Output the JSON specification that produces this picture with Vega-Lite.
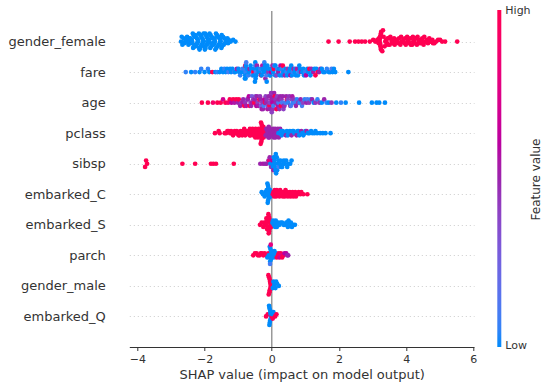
{
"$schema":"https://vega.github.io/schema/vega-lite/v6.json",
"width":344.7,"height":336,
"autosize":{"type":"none"},
"padding":{"left":129.3,"top":11,"right":76,"bottom":41},
"config":{"view":{"stroke":null},"font":"DejaVu Sans"},
"resolve":{"scale":{"y":"independent"}},
"layer":[
{"data":{"values":[{}]},"mark":{"type":"rule","color":"#999999","strokeWidth":1.5},"encoding":{"x":{"datum":0}}},
{"data":{"values":[{}]},"mark":{"type":"rule","opacity":0},"encoding":{"y":{"datum":0,"type":"quantitative","scale":{"domain":[0,1]},"axis":{"orient":"right","title":"Feature value","domain":false,"ticks":false,"labels":false,"grid":false,"titleAngle":-90,"titlePadding":68,"titleFontSize":12,"titleFontWeight":"normal","titleColor":"#333333"}}}},
{"data":{"values":[
{"f":"gender_female","s":-2.70,"v":0},{"f":"gender_female","s":-2.68,"v":0},{"f":"gender_female","s":-2.66,"v":0},{"f":"gender_female","s":-2.62,"v":0},{"f":"gender_female","s":-2.60,"v":0},{"f":"gender_female","s":-2.57,"v":0},{"f":"gender_female","s":-2.55,"v":0},{"f":"gender_female","s":-2.52,"v":0},
{"f":"gender_female","s":-2.48,"v":0},{"f":"gender_female","s":-2.47,"v":0},{"f":"gender_female","s":-2.45,"v":0},{"f":"gender_female","s":-2.43,"v":0},{"f":"gender_female","s":-2.42,"v":0},{"f":"gender_female","s":-2.40,"v":0},{"f":"gender_female","s":-2.38,"v":0},{"f":"gender_female","s":-2.37,"v":0},{"f":"gender_female","s":-2.35,"v":0},{"f":"gender_female","s":-2.34,"v":0},{"f":"gender_female","s":-2.32,"v":0},{"f":"gender_female","s":-2.31,"v":0},{"f":"gender_female","s":-2.30,"v":0},{"f":"gender_female","s":-2.295,"v":0},
{"f":"gender_female","s":-2.28,"v":0},{"f":"gender_female","s":-2.27,"v":0},{"f":"gender_female","s":-2.26,"v":0},{"f":"gender_female","s":-2.24,"v":0},{"f":"gender_female","s":-2.23,"v":0},{"f":"gender_female","s":-2.22,"v":0},{"f":"gender_female","s":-2.20,"v":0},{"f":"gender_female","s":-2.19,"v":0},{"f":"gender_female","s":-2.17,"v":0},{"f":"gender_female","s":-2.16,"v":0},{"f":"gender_female","s":-2.15,"v":0},{"f":"gender_female","s":-2.13,"v":0},{"f":"gender_female","s":-2.12,"v":0},{"f":"gender_female","s":-2.11,"v":0},{"f":"gender_female","s":-2.10,"v":0},{"f":"gender_female","s":-2.09,"v":0},
{"f":"gender_female","s":-2.07,"v":0},{"f":"gender_female","s":-2.06,"v":0},{"f":"gender_female","s":-2.05,"v":0},{"f":"gender_female","s":-2.03,"v":0},{"f":"gender_female","s":-2.02,"v":0},{"f":"gender_female","s":-2.01,"v":0},{"f":"gender_female","s":-1.99,"v":0},{"f":"gender_female","s":-1.98,"v":0},{"f":"gender_female","s":-1.97,"v":0},{"f":"gender_female","s":-1.95,"v":0},{"f":"gender_female","s":-1.94,"v":0},{"f":"gender_female","s":-1.93,"v":0},{"f":"gender_female","s":-1.91,"v":0},{"f":"gender_female","s":-1.90,"v":0},{"f":"gender_female","s":-1.89,"v":0},{"f":"gender_female","s":-1.88,"v":0},
{"f":"gender_female","s":-1.87,"v":0},{"f":"gender_female","s":-1.86,"v":0},{"f":"gender_female","s":-1.85,"v":0},{"f":"gender_female","s":-1.83,"v":0},{"f":"gender_female","s":-1.82,"v":0},{"f":"gender_female","s":-1.80,"v":0},{"f":"gender_female","s":-1.79,"v":0},{"f":"gender_female","s":-1.78,"v":0},{"f":"gender_female","s":-1.76,"v":0},{"f":"gender_female","s":-1.75,"v":0},{"f":"gender_female","s":-1.74,"v":0},{"f":"gender_female","s":-1.72,"v":0},{"f":"gender_female","s":-1.71,"v":0},{"f":"gender_female","s":-1.70,"v":0},{"f":"gender_female","s":-1.69,"v":0},{"f":"gender_female","s":-1.68,"v":0},
{"f":"gender_female","s":-1.66,"v":0},{"f":"gender_female","s":-1.65,"v":0},{"f":"gender_female","s":-1.63,"v":0},{"f":"gender_female","s":-1.62,"v":0},{"f":"gender_female","s":-1.61,"v":0},{"f":"gender_female","s":-1.59,"v":0},{"f":"gender_female","s":-1.58,"v":0},{"f":"gender_female","s":-1.56,"v":0},{"f":"gender_female","s":-1.55,"v":0},{"f":"gender_female","s":-1.53,"v":0},{"f":"gender_female","s":-1.52,"v":0},{"f":"gender_female","s":-1.50,"v":0},{"f":"gender_female","s":-1.49,"v":0},{"f":"gender_female","s":-1.48,"v":0},
{"f":"gender_female","s":-1.45,"v":0},{"f":"gender_female","s":-1.43,"v":0},{"f":"gender_female","s":-1.41,"v":0},{"f":"gender_female","s":-1.39,"v":0},{"f":"gender_female","s":-1.37,"v":0},{"f":"gender_female","s":-1.35,"v":0},{"f":"gender_female","s":-1.32,"v":0},{"f":"gender_female","s":-1.30,"v":0},{"f":"gender_female","s":-1.28,"v":0},{"f":"gender_female","s":-1.22,"v":0},{"f":"gender_female","s":-1.15,"v":0},{"f":"gender_female","s":-1.08,"v":0},
{"f":"gender_female","s":1.69,"v":1},{"f":"gender_female","s":1.99,"v":1},{"f":"gender_female","s":2.32,"v":1},{"f":"gender_female","s":2.48,"v":1},{"f":"gender_female","s":2.58,"v":1},{"f":"gender_female","s":2.68,"v":1},{"f":"gender_female","s":2.78,"v":1},{"f":"gender_female","s":2.92,"v":1},{"f":"gender_female","s":3.02,"v":1},
{"f":"gender_female","s":3.08,"v":1},{"f":"gender_female","s":3.14,"v":1},{"f":"gender_female","s":3.18,"v":1},{"f":"gender_female","s":3.19,"v":1},{"f":"gender_female","s":3.20,"v":1},{"f":"gender_female","s":3.21,"v":1},{"f":"gender_female","s":3.22,"v":1},{"f":"gender_female","s":3.22,"v":1},{"f":"gender_female","s":3.23,"v":1},{"f":"gender_female","s":3.23,"v":1},{"f":"gender_female","s":3.24,"v":1},{"f":"gender_female","s":3.24,"v":1},{"f":"gender_female","s":3.245,"v":1},{"f":"gender_female","s":3.25,"v":1},{"f":"gender_female","s":3.25,"v":1},{"f":"gender_female","s":3.255,"v":1},
{"f":"gender_female","s":3.29,"v":1},{"f":"gender_female","s":3.31,"v":1},{"f":"gender_female","s":3.33,"v":1},{"f":"gender_female","s":3.36,"v":1},{"f":"gender_female","s":3.38,"v":1},{"f":"gender_female","s":3.40,"v":1},{"f":"gender_female","s":3.43,"v":1},{"f":"gender_female","s":3.45,"v":1},{"f":"gender_female","s":3.46,"v":1},
{"f":"gender_female","s":3.49,"v":1},{"f":"gender_female","s":3.51,"v":1},{"f":"gender_female","s":3.53,"v":1},{"f":"gender_female","s":3.57,"v":1},{"f":"gender_female","s":3.58,"v":1},{"f":"gender_female","s":3.60,"v":1},{"f":"gender_female","s":3.62,"v":1},{"f":"gender_female","s":3.64,"v":1},{"f":"gender_female","s":3.66,"v":1},
{"f":"gender_female","s":3.70,"v":1},{"f":"gender_female","s":3.72,"v":1},{"f":"gender_female","s":3.74,"v":1},{"f":"gender_female","s":3.77,"v":1},{"f":"gender_female","s":3.79,"v":1},{"f":"gender_female","s":3.83,"v":1},{"f":"gender_female","s":3.85,"v":1},{"f":"gender_female","s":3.87,"v":1},
{"f":"gender_female","s":3.90,"v":1},{"f":"gender_female","s":3.92,"v":1},{"f":"gender_female","s":3.95,"v":1},{"f":"gender_female","s":3.97,"v":1},{"f":"gender_female","s":3.99,"v":1},{"f":"gender_female","s":4.03,"v":1},{"f":"gender_female","s":4.05,"v":1},{"f":"gender_female","s":4.07,"v":1},
{"f":"gender_female","s":4.10,"v":1},{"f":"gender_female","s":4.12,"v":1},{"f":"gender_female","s":4.14,"v":1},{"f":"gender_female","s":4.18,"v":1},{"f":"gender_female","s":4.20,"v":1},{"f":"gender_female","s":4.21,"v":1},{"f":"gender_female","s":4.24,"v":1},{"f":"gender_female","s":4.26,"v":1},{"f":"gender_female","s":4.28,"v":1},
{"f":"gender_female","s":4.30,"v":1},{"f":"gender_female","s":4.32,"v":1},{"f":"gender_female","s":4.34,"v":1},{"f":"gender_female","s":4.38,"v":1},{"f":"gender_female","s":4.40,"v":1},{"f":"gender_female","s":4.41,"v":1},{"f":"gender_female","s":4.45,"v":1},{"f":"gender_female","s":4.46,"v":1},{"f":"gender_female","s":4.48,"v":1},
{"f":"gender_female","s":4.52,"v":1},{"f":"gender_female","s":4.54,"v":1},{"f":"gender_female","s":4.56,"v":1},{"f":"gender_female","s":4.60,"v":1},{"f":"gender_female","s":4.62,"v":1},{"f":"gender_female","s":4.65,"v":1},{"f":"gender_female","s":4.69,"v":1},
{"f":"gender_female","s":4.73,"v":1},{"f":"gender_female","s":4.78,"v":1},{"f":"gender_female","s":4.80,"v":1},{"f":"gender_female","s":4.84,"v":1},{"f":"gender_female","s":4.89,"v":1},{"f":"gender_female","s":4.95,"v":1},{"f":"gender_female","s":5.01,"v":1},{"f":"gender_female","s":5.07,"v":1},{"f":"gender_female","s":5.16,"v":1},{"f":"gender_female","s":5.52,"v":1},

{"f":"fare","s":-2.56,"v":0.05},{"f":"fare","s":-2.40,"v":0},{"f":"fare","s":-2.28,"v":0.05},{"f":"fare","s":-2.15,"v":0},{"f":"fare","s":-2.10,"v":0.05},{"f":"fare","s":-2.00,"v":0},{"f":"fare","s":-1.90,"v":0.05},{"f":"fare","s":-1.86,"v":0},{"f":"fare","s":-1.77,"v":1},{"f":"fare","s":-1.68,"v":0},{"f":"fare","s":-1.62,"v":0.05},{"f":"fare","s":-1.55,"v":0},{"f":"fare","s":-1.50,"v":0},
{"f":"fare","s":-1.45,"v":0},{"f":"fare","s":-1.41,"v":0.05},{"f":"fare","s":-1.37,"v":0},{"f":"fare","s":-1.33,"v":0},{"f":"fare","s":-1.29,"v":0.1},{"f":"fare","s":-1.24,"v":0},{"f":"fare","s":-1.21,"v":0},{"f":"fare","s":-1.17,"v":0},{"f":"fare","s":-1.12,"v":0.05},{"f":"fare","s":-1.09,"v":0},{"f":"fare","s":-1.04,"v":0.5},{"f":"fare","s":-0.99,"v":0},{"f":"fare","s":-0.97,"v":0},{"f":"fare","s":-0.94,"v":0.05},{"f":"fare","s":-0.90,"v":0},{"f":"fare","s":-0.87,"v":0.1},
{"f":"fare","s":-0.85,"v":0},{"f":"fare","s":-0.82,"v":0.05},{"f":"fare","s":-0.80,"v":0},{"f":"fare","s":-0.79,"v":0},{"f":"fare","s":-0.79,"v":1},{"f":"fare","s":-0.78,"v":0},{"f":"fare","s":-0.78,"v":0.05},{"f":"fare","s":-0.77,"v":0},{"f":"fare","s":-0.76,"v":0.1},{"f":"fare","s":-0.75,"v":0},
{"f":"fare","s":-0.73,"v":0},{"f":"fare","s":-0.70,"v":0.05},{"f":"fare","s":-0.68,"v":0},{"f":"fare","s":-0.66,"v":0.5},{"f":"fare","s":-0.63,"v":0},
{"f":"fare","s":-0.61,"v":0},{"f":"fare","s":-0.58,"v":0.05},{"f":"fare","s":-0.55,"v":1},{"f":"fare","s":-0.53,"v":0},{"f":"fare","s":-0.51,"v":0},
{"f":"fare","s":-0.50,"v":0},{"f":"fare","s":-0.49,"v":0},{"f":"fare","s":-0.49,"v":0.05},{"f":"fare","s":-0.48,"v":0},{"f":"fare","s":-0.47,"v":0.1},{"f":"fare","s":-0.46,"v":0},{"f":"fare","s":-0.44,"v":0.5},{"f":"fare","s":-0.42,"v":0},{"f":"fare","s":-0.39,"v":0},
{"f":"fare","s":-0.37,"v":0},{"f":"fare","s":-0.34,"v":0.05},{"f":"fare","s":-0.32,"v":1},{"f":"fare","s":-0.30,"v":0},{"f":"fare","s":-0.28,"v":0.55},{"f":"fare","s":-0.27,"v":0},
{"f":"fare","s":-0.25,"v":0},{"f":"fare","s":-0.22,"v":0.05},{"f":"fare","s":-0.20,"v":0},{"f":"fare","s":-0.19,"v":0},{"f":"fare","s":-0.19,"v":0.5},{"f":"fare","s":-0.18,"v":0},{"f":"fare","s":-0.16,"v":0.1},{"f":"fare","s":-0.15,"v":0},
{"f":"fare","s":-0.13,"v":0},{"f":"fare","s":-0.10,"v":0.45},{"f":"fare","s":-0.08,"v":0},{"f":"fare","s":-0.06,"v":0.05},{"f":"fare","s":-0.04,"v":0},{"f":"fare","s":-0.02,"v":0.6},
{"f":"fare","s":-0.01,"v":0},{"f":"fare","s":0.02,"v":0.5},{"f":"fare","s":0.04,"v":0},{"f":"fare","s":0.06,"v":1},{"f":"fare","s":0.08,"v":0.05},{"f":"fare","s":0.10,"v":0},
{"f":"fare","s":0.11,"v":0},{"f":"fare","s":0.14,"v":0.4},{"f":"fare","s":0.16,"v":0.05},{"f":"fare","s":0.18,"v":0},{"f":"fare","s":0.20,"v":0.55},{"f":"fare","s":0.22,"v":0},
{"f":"fare","s":0.24,"v":0},{"f":"fare","s":0.26,"v":0.6},{"f":"fare","s":0.29,"v":0.05},{"f":"fare","s":0.31,"v":0},{"f":"fare","s":0.33,"v":1},{"f":"fare","s":0.34,"v":0},
{"f":"fare","s":0.36,"v":0},{"f":"fare","s":0.39,"v":0.5},{"f":"fare","s":0.41,"v":0},{"f":"fare","s":0.44,"v":0.05},{"f":"fare","s":0.46,"v":0},
{"f":"fare","s":0.48,"v":0.45},{"f":"fare","s":0.51,"v":0},{"f":"fare","s":0.54,"v":0},{"f":"fare","s":0.56,"v":0.6},{"f":"fare","s":0.58,"v":0},
{"f":"fare","s":0.60,"v":0},{"f":"fare","s":0.63,"v":0.05},{"f":"fare","s":0.65,"v":0.5},{"f":"fare","s":0.68,"v":0},{"f":"fare","s":0.70,"v":0},
{"f":"fare","s":0.72,"v":0},{"f":"fare","s":0.75,"v":0.55},{"f":"fare","s":0.78,"v":0},{"f":"fare","s":0.80,"v":0.05},{"f":"fare","s":0.82,"v":0},
{"f":"fare","s":0.84,"v":0},{"f":"fare","s":0.87,"v":0.5},{"f":"fare","s":0.91,"v":0},{"f":"fare","s":0.94,"v":0},
{"f":"fare","s":0.96,"v":0},{"f":"fare","s":0.99,"v":0.05},{"f":"fare","s":1.02,"v":0.6},{"f":"fare","s":1.06,"v":0},
{"f":"fare","s":1.09,"v":0},{"f":"fare","s":1.12,"v":1},{"f":"fare","s":1.15,"v":0},{"f":"fare","s":1.18,"v":0.5},
{"f":"fare","s":1.21,"v":0},{"f":"fare","s":1.24,"v":0.55},{"f":"fare","s":1.27,"v":0},{"f":"fare","s":1.30,"v":1},
{"f":"fare","s":1.33,"v":0},{"f":"fare","s":1.37,"v":1},{"f":"fare","s":1.41,"v":0.5},
{"f":"fare","s":1.45,"v":0.55},{"f":"fare","s":1.49,"v":0},{"f":"fare","s":1.53,"v":0},
{"f":"fare","s":1.58,"v":0},{"f":"fare","s":1.64,"v":0.05},
{"f":"fare","s":1.70,"v":0},{"f":"fare","s":1.74,"v":0},{"f":"fare","s":1.78,"v":0.1},
{"f":"fare","s":1.81,"v":0},{"f":"fare","s":1.85,"v":0},{"f":"fare","s":1.89,"v":0},{"f":"fare","s":2.28,"v":0},

{"f":"age","s":-2.08,"v":1},{"f":"age","s":-1.90,"v":1},{"f":"age","s":-1.75,"v":0.9},{"f":"age","s":-1.62,"v":1},{"f":"age","s":-1.52,"v":1},{"f":"age","s":-1.45,"v":0.7},{"f":"age","s":-1.38,"v":1},{"f":"age","s":-1.30,"v":0.9},
{"f":"age","s":-1.25,"v":1},{"f":"age","s":-1.20,"v":0.6},{"f":"age","s":-1.15,"v":1},{"f":"age","s":-1.11,"v":0.55},{"f":"age","s":-1.06,"v":1},{"f":"age","s":-1.00,"v":0.5},
{"f":"age","s":-0.98,"v":1},{"f":"age","s":-0.94,"v":0.5},{"f":"age","s":-0.90,"v":0.4},{"f":"age","s":-0.87,"v":0.55},
{"f":"age","s":-0.85,"v":0.5},{"f":"age","s":-0.82,"v":1},{"f":"age","s":-0.79,"v":0.45},{"f":"age","s":-0.76,"v":0.55},{"f":"age","s":-0.73,"v":0.35},
{"f":"age","s":-0.71,"v":0.5},{"f":"age","s":-0.68,"v":0.6},{"f":"age","s":-0.66,"v":1},{"f":"age","s":-0.63,"v":0.4},{"f":"age","s":-0.61,"v":0.5},{"f":"age","s":-0.59,"v":0.3},
{"f":"age","s":-0.58,"v":0.55},{"f":"age","s":-0.55,"v":0.45},{"f":"age","s":-0.52,"v":1},{"f":"age","s":-0.50,"v":0.5},{"f":"age","s":-0.48,"v":0.35},{"f":"age","s":-0.46,"v":0.6},
{"f":"age","s":-0.44,"v":0.5},{"f":"age","s":-0.42,"v":0.4},{"f":"age","s":-0.40,"v":0.55},{"f":"age","s":-0.37,"v":1},{"f":"age","s":-0.35,"v":0.45},{"f":"age","s":-0.33,"v":0.5},{"f":"age","s":-0.32,"v":0.3},
{"f":"age","s":-0.30,"v":0.55},{"f":"age","s":-0.28,"v":0.45},{"f":"age","s":-0.26,"v":0.5},{"f":"age","s":-0.24,"v":0.1},{"f":"age","s":-0.22,"v":0.6},{"f":"age","s":-0.20,"v":1},{"f":"age","s":-0.18,"v":0.4},
{"f":"age","s":-0.17,"v":0.5},{"f":"age","s":-0.15,"v":0.45},{"f":"age","s":-0.13,"v":0.55},{"f":"age","s":-0.11,"v":0.35},{"f":"age","s":-0.09,"v":0.5},{"f":"age","s":-0.07,"v":1},{"f":"age","s":-0.06,"v":0.4},{"f":"age","s":-0.05,"v":0.5},
{"f":"age","s":-0.03,"v":0.5},{"f":"age","s":-0.02,"v":0.45},{"f":"age","s":-0.01,"v":0.55},{"f":"age","s":0.00,"v":0.4},{"f":"age","s":0.01,"v":0.5},{"f":"age","s":0.02,"v":0.6},{"f":"age","s":0.03,"v":0.45},{"f":"age","s":0.05,"v":0.1},{"f":"age","s":0.07,"v":0.5},{"f":"age","s":0.09,"v":1},
{"f":"age","s":0.11,"v":0.45},{"f":"age","s":0.12,"v":0.5},{"f":"age","s":0.14,"v":1},{"f":"age","s":0.16,"v":0.4},{"f":"age","s":0.18,"v":0.55},{"f":"age","s":0.20,"v":0.1},{"f":"age","s":0.21,"v":0.5},{"f":"age","s":0.23,"v":0.45},
{"f":"age","s":0.25,"v":0.5},{"f":"age","s":0.27,"v":1},{"f":"age","s":0.29,"v":0.45},{"f":"age","s":0.31,"v":0.1},{"f":"age","s":0.33,"v":0.5},{"f":"age","s":0.35,"v":0.4},{"f":"age","s":0.36,"v":0.55},
{"f":"age","s":0.38,"v":0.45},{"f":"age","s":0.41,"v":0.1},{"f":"age","s":0.43,"v":0.5},{"f":"age","s":0.45,"v":1},{"f":"age","s":0.47,"v":0.4},{"f":"age","s":0.49,"v":0.05},
{"f":"age","s":0.52,"v":0.45},{"f":"age","s":0.55,"v":0.5},{"f":"age","s":0.57,"v":0.1},{"f":"age","s":0.59,"v":0.4},{"f":"age","s":0.61,"v":0.55},{"f":"age","s":0.63,"v":0.05},
{"f":"age","s":0.66,"v":0.45},{"f":"age","s":0.69,"v":0.1},{"f":"age","s":0.72,"v":0.5},{"f":"age","s":0.75,"v":0.05},
{"f":"age","s":0.79,"v":0.45},{"f":"age","s":0.83,"v":0.05},{"f":"age","s":0.86,"v":0.5},{"f":"age","s":0.90,"v":0.1},
{"f":"age","s":0.93,"v":0.4},{"f":"age","s":0.98,"v":0.05},{"f":"age","s":1.03,"v":0.5},
{"f":"age","s":1.06,"v":0.1},{"f":"age","s":1.11,"v":0.45},{"f":"age","s":1.16,"v":0.05},
{"f":"age","s":1.20,"v":0.5},{"f":"age","s":1.25,"v":0},{"f":"age","s":1.30,"v":0.45},
{"f":"age","s":1.36,"v":0.05},{"f":"age","s":1.42,"v":0.45},{"f":"age","s":1.49,"v":0},{"f":"age","s":1.56,"v":0.5},{"f":"age","s":1.63,"v":0.05},{"f":"age","s":1.70,"v":0},
{"f":"age","s":1.78,"v":0.45},{"f":"age","s":1.92,"v":0},{"f":"age","s":2.06,"v":0.05},{"f":"age","s":2.20,"v":0},{"f":"age","s":2.60,"v":0},{"f":"age","s":2.98,"v":0},{"f":"age","s":3.12,"v":0},{"f":"age","s":3.20,"v":0},{"f":"age","s":3.37,"v":0},

{"f":"pclass","s":-1.69,"v":1},{"f":"pclass","s":-1.58,"v":1},{"f":"pclass","s":-1.55,"v":1},{"f":"pclass","s":-1.40,"v":1},{"f":"pclass","s":-1.36,"v":1},{"f":"pclass","s":-1.32,"v":1},{"f":"pclass","s":-1.28,"v":1},
{"f":"pclass","s":-1.24,"v":1},{"f":"pclass","s":-1.21,"v":1},{"f":"pclass","s":-1.18,"v":1},{"f":"pclass","s":-1.15,"v":1},{"f":"pclass","s":-1.10,"v":1},
{"f":"pclass","s":-1.07,"v":1},{"f":"pclass","s":-1.04,"v":1},{"f":"pclass","s":-1.01,"v":1},{"f":"pclass","s":-0.99,"v":1},{"f":"pclass","s":-0.96,"v":1},{"f":"pclass","s":-0.93,"v":1},
{"f":"pclass","s":-0.91,"v":1},{"f":"pclass","s":-0.88,"v":1},{"f":"pclass","s":-0.86,"v":1},{"f":"pclass","s":-0.84,"v":1},{"f":"pclass","s":-0.82,"v":1},{"f":"pclass","s":-0.79,"v":1},{"f":"pclass","s":-0.76,"v":1},
{"f":"pclass","s":-0.74,"v":1},{"f":"pclass","s":-0.71,"v":1},{"f":"pclass","s":-0.69,"v":1},{"f":"pclass","s":-0.66,"v":1},{"f":"pclass","s":-0.65,"v":1},{"f":"pclass","s":-0.63,"v":1},{"f":"pclass","s":-0.60,"v":1},{"f":"pclass","s":-0.58,"v":1},
{"f":"pclass","s":-0.57,"v":1},{"f":"pclass","s":-0.55,"v":1},{"f":"pclass","s":-0.53,"v":1},{"f":"pclass","s":-0.51,"v":1},{"f":"pclass","s":-0.49,"v":1},
{"f":"pclass","s":-0.48,"v":1},{"f":"pclass","s":-0.46,"v":1},{"f":"pclass","s":-0.44,"v":1},{"f":"pclass","s":-0.42,"v":1},{"f":"pclass","s":-0.41,"v":1},
{"f":"pclass","s":-0.39,"v":1},{"f":"pclass","s":-0.37,"v":1},{"f":"pclass","s":-0.36,"v":1},{"f":"pclass","s":-0.34,"v":1},{"f":"pclass","s":-0.33,"v":1},{"f":"pclass","s":-0.32,"v":1},
{"f":"pclass","s":-0.31,"v":1},{"f":"pclass","s":-0.30,"v":1},{"f":"pclass","s":-0.30,"v":1},{"f":"pclass","s":-0.29,"v":1},{"f":"pclass","s":-0.29,"v":1},{"f":"pclass","s":-0.28,"v":1},{"f":"pclass","s":-0.28,"v":1},{"f":"pclass","s":-0.27,"v":1},{"f":"pclass","s":-0.26,"v":1},{"f":"pclass","s":-0.25,"v":1},{"f":"pclass","s":-0.24,"v":1},{"f":"pclass","s":-0.23,"v":1},
{"f":"pclass","s":-0.22,"v":1},{"f":"pclass","s":-0.20,"v":1},{"f":"pclass","s":-0.18,"v":0.5},{"f":"pclass","s":-0.16,"v":0.5},{"f":"pclass","s":-0.15,"v":0.5},
{"f":"pclass","s":-0.13,"v":0.5},{"f":"pclass","s":-0.12,"v":0.5},{"f":"pclass","s":-0.10,"v":0.5},{"f":"pclass","s":-0.09,"v":0.5},{"f":"pclass","s":-0.07,"v":0.5},{"f":"pclass","s":-0.06,"v":0.5},
{"f":"pclass","s":-0.05,"v":0.5},{"f":"pclass","s":-0.03,"v":0.5},{"f":"pclass","s":-0.02,"v":0.5},{"f":"pclass","s":0.00,"v":0.5},{"f":"pclass","s":0.01,"v":0.5},{"f":"pclass","s":0.02,"v":0.5},
{"f":"pclass","s":0.04,"v":0.5},{"f":"pclass","s":0.06,"v":0.5},{"f":"pclass","s":0.07,"v":0.5},{"f":"pclass","s":0.09,"v":0.5},{"f":"pclass","s":0.10,"v":0.5},{"f":"pclass","s":0.11,"v":0.5},
{"f":"pclass","s":0.13,"v":0.5},{"f":"pclass","s":0.15,"v":0.5},{"f":"pclass","s":0.17,"v":0.5},{"f":"pclass","s":0.18,"v":0.5},{"f":"pclass","s":0.20,"v":0},
{"f":"pclass","s":0.21,"v":0.5},{"f":"pclass","s":0.23,"v":0},{"f":"pclass","s":0.25,"v":0.5},{"f":"pclass","s":0.27,"v":0},
{"f":"pclass","s":0.30,"v":0},{"f":"pclass","s":0.33,"v":0},{"f":"pclass","s":0.36,"v":0},{"f":"pclass","s":0.39,"v":0},{"f":"pclass","s":0.42,"v":0.5},{"f":"pclass","s":0.45,"v":0},
{"f":"pclass","s":0.48,"v":0},{"f":"pclass","s":0.51,"v":0},{"f":"pclass","s":0.54,"v":0},{"f":"pclass","s":0.56,"v":0},{"f":"pclass","s":0.59,"v":0.5},{"f":"pclass","s":0.62,"v":0},
{"f":"pclass","s":0.65,"v":0},{"f":"pclass","s":0.68,"v":0},{"f":"pclass","s":0.71,"v":0},{"f":"pclass","s":0.74,"v":0.5},{"f":"pclass","s":0.77,"v":0},{"f":"pclass","s":0.80,"v":0},
{"f":"pclass","s":0.82,"v":0},{"f":"pclass","s":0.85,"v":0},{"f":"pclass","s":0.88,"v":0.5},{"f":"pclass","s":0.91,"v":0},{"f":"pclass","s":0.94,"v":0},{"f":"pclass","s":0.97,"v":0},
{"f":"pclass","s":1.00,"v":0},{"f":"pclass","s":1.04,"v":0.5},{"f":"pclass","s":1.08,"v":0},{"f":"pclass","s":1.12,"v":0},{"f":"pclass","s":1.17,"v":0},{"f":"pclass","s":1.21,"v":0},
{"f":"pclass","s":1.27,"v":0},{"f":"pclass","s":1.30,"v":0},{"f":"pclass","s":1.35,"v":0},{"f":"pclass","s":1.44,"v":0},{"f":"pclass","s":1.52,"v":0},{"f":"pclass","s":1.60,"v":0},{"f":"pclass","s":1.75,"v":0},

{"f":"sibsp","s":-3.77,"v":1},{"f":"sibsp","s":-3.74,"v":1},{"f":"sibsp","s":-3.71,"v":1},{"f":"sibsp","s":-2.66,"v":1},{"f":"sibsp","s":-2.28,"v":1},{"f":"sibsp","s":-1.81,"v":1},{"f":"sibsp","s":-1.74,"v":1},{"f":"sibsp","s":-1.66,"v":1},{"f":"sibsp","s":-1.13,"v":1},
{"f":"sibsp","s":-0.34,"v":0.5},{"f":"sibsp","s":-0.26,"v":0.55},{"f":"sibsp","s":-0.20,"v":0.5},{"f":"sibsp","s":-0.15,"v":0.5},{"f":"sibsp","s":-0.10,"v":0.4},{"f":"sibsp","s":-0.08,"v":0.8},
{"f":"sibsp","s":-0.06,"v":0.5},{"f":"sibsp","s":-0.04,"v":0},{"f":"sibsp","s":-0.02,"v":0.45},{"f":"sibsp","s":0.00,"v":0},{"f":"sibsp","s":0.02,"v":0.6},{"f":"sibsp","s":0.04,"v":0},
{"f":"sibsp","s":0.05,"v":0.5},{"f":"sibsp","s":0.06,"v":0},{"f":"sibsp","s":0.07,"v":0},{"f":"sibsp","s":0.08,"v":0},{"f":"sibsp","s":0.09,"v":0},{"f":"sibsp","s":0.10,"v":0},{"f":"sibsp","s":0.11,"v":0},{"f":"sibsp","s":0.12,"v":0},{"f":"sibsp","s":0.13,"v":0},{"f":"sibsp","s":0.15,"v":0},
{"f":"sibsp","s":0.16,"v":0},{"f":"sibsp","s":0.18,"v":0},{"f":"sibsp","s":0.20,"v":0},{"f":"sibsp","s":0.22,"v":0.1},{"f":"sibsp","s":0.24,"v":0},{"f":"sibsp","s":0.26,"v":0},
{"f":"sibsp","s":0.28,"v":0},{"f":"sibsp","s":0.31,"v":0},{"f":"sibsp","s":0.34,"v":0},{"f":"sibsp","s":0.36,"v":0},{"f":"sibsp","s":0.39,"v":0},{"f":"sibsp","s":0.43,"v":0},{"f":"sibsp","s":0.46,"v":0},{"f":"sibsp","s":0.50,"v":0},{"f":"sibsp","s":0.55,"v":0},{"f":"sibsp","s":0.59,"v":0},

{"f":"embarked_C","s":-0.30,"v":0},{"f":"embarked_C","s":-0.26,"v":0},{"f":"embarked_C","s":-0.21,"v":0},{"f":"embarked_C","s":-0.19,"v":0},{"f":"embarked_C","s":-0.17,"v":0},{"f":"embarked_C","s":-0.15,"v":0},
{"f":"embarked_C","s":-0.13,"v":0},{"f":"embarked_C","s":-0.12,"v":0},{"f":"embarked_C","s":-0.11,"v":0},{"f":"embarked_C","s":-0.11,"v":0},{"f":"embarked_C","s":-0.10,"v":0},{"f":"embarked_C","s":-0.09,"v":0},{"f":"embarked_C","s":-0.09,"v":0},{"f":"embarked_C","s":-0.08,"v":0},{"f":"embarked_C","s":-0.07,"v":0},{"f":"embarked_C","s":-0.07,"v":0},
{"f":"embarked_C","s":-0.05,"v":0},{"f":"embarked_C","s":-0.03,"v":0},{"f":"embarked_C","s":-0.01,"v":0},{"f":"embarked_C","s":0.01,"v":0},
{"f":"embarked_C","s":0.03,"v":1},{"f":"embarked_C","s":0.05,"v":1},{"f":"embarked_C","s":0.07,"v":1},{"f":"embarked_C","s":0.09,"v":1},{"f":"embarked_C","s":0.11,"v":1},{"f":"embarked_C","s":0.13,"v":1},{"f":"embarked_C","s":0.15,"v":1},{"f":"embarked_C","s":0.17,"v":1},
{"f":"embarked_C","s":0.19,"v":1},{"f":"embarked_C","s":0.21,"v":1},{"f":"embarked_C","s":0.23,"v":1},{"f":"embarked_C","s":0.25,"v":1},{"f":"embarked_C","s":0.28,"v":1},{"f":"embarked_C","s":0.30,"v":1},{"f":"embarked_C","s":0.33,"v":1},
{"f":"embarked_C","s":0.35,"v":1},{"f":"embarked_C","s":0.37,"v":1},{"f":"embarked_C","s":0.39,"v":1},{"f":"embarked_C","s":0.41,"v":1},{"f":"embarked_C","s":0.44,"v":1},{"f":"embarked_C","s":0.46,"v":1},{"f":"embarked_C","s":0.48,"v":1},
{"f":"embarked_C","s":0.52,"v":1},{"f":"embarked_C","s":0.54,"v":1},{"f":"embarked_C","s":0.56,"v":1},{"f":"embarked_C","s":0.60,"v":1},{"f":"embarked_C","s":0.62,"v":1},{"f":"embarked_C","s":0.64,"v":1},{"f":"embarked_C","s":0.68,"v":1},{"f":"embarked_C","s":0.70,"v":1},{"f":"embarked_C","s":0.72,"v":1},
{"f":"embarked_C","s":0.76,"v":1},{"f":"embarked_C","s":0.80,"v":1},{"f":"embarked_C","s":0.85,"v":1},{"f":"embarked_C","s":0.88,"v":1},{"f":"embarked_C","s":0.94,"v":1},{"f":"embarked_C","s":1.06,"v":1},

{"f":"embarked_S","s":-0.35,"v":1},{"f":"embarked_S","s":-0.30,"v":1},{"f":"embarked_S","s":-0.25,"v":1},{"f":"embarked_S","s":-0.22,"v":1},{"f":"embarked_S","s":-0.20,"v":1},
{"f":"embarked_S","s":-0.18,"v":1},{"f":"embarked_S","s":-0.17,"v":1},{"f":"embarked_S","s":-0.16,"v":1},{"f":"embarked_S","s":-0.14,"v":1},{"f":"embarked_S","s":-0.13,"v":1},{"f":"embarked_S","s":-0.12,"v":1},
{"f":"embarked_S","s":-0.10,"v":1},{"f":"embarked_S","s":-0.09,"v":1},{"f":"embarked_S","s":-0.09,"v":1},{"f":"embarked_S","s":-0.08,"v":1},{"f":"embarked_S","s":-0.07,"v":1},{"f":"embarked_S","s":-0.07,"v":1},{"f":"embarked_S","s":-0.06,"v":1},{"f":"embarked_S","s":-0.05,"v":1},{"f":"embarked_S","s":-0.05,"v":1},{"f":"embarked_S","s":-0.04,"v":1},
{"f":"embarked_S","s":-0.02,"v":1},{"f":"embarked_S","s":0.00,"v":1},{"f":"embarked_S","s":0.02,"v":0},{"f":"embarked_S","s":0.04,"v":0},
{"f":"embarked_S","s":0.06,"v":0},{"f":"embarked_S","s":0.08,"v":0},{"f":"embarked_S","s":0.10,"v":0},{"f":"embarked_S","s":0.12,"v":0},{"f":"embarked_S","s":0.15,"v":0},{"f":"embarked_S","s":0.17,"v":0},{"f":"embarked_S","s":0.19,"v":0},
{"f":"embarked_S","s":0.23,"v":0},{"f":"embarked_S","s":0.27,"v":0},{"f":"embarked_S","s":0.31,"v":0},{"f":"embarked_S","s":0.35,"v":0},{"f":"embarked_S","s":0.39,"v":0},{"f":"embarked_S","s":0.43,"v":0},
{"f":"embarked_S","s":0.46,"v":0},{"f":"embarked_S","s":0.48,"v":0},{"f":"embarked_S","s":0.50,"v":0},{"f":"embarked_S","s":0.52,"v":0},{"f":"embarked_S","s":0.55,"v":0},{"f":"embarked_S","s":0.57,"v":0},{"f":"embarked_S","s":0.60,"v":0},{"f":"embarked_S","s":0.64,"v":0},{"f":"embarked_S","s":0.69,"v":0},

{"f":"parch","s":-0.55,"v":1},{"f":"parch","s":-0.50,"v":1},{"f":"parch","s":-0.45,"v":1},{"f":"parch","s":-0.41,"v":1},{"f":"parch","s":-0.36,"v":1},{"f":"parch","s":-0.33,"v":1},{"f":"parch","s":-0.29,"v":1},{"f":"parch","s":-0.25,"v":1},{"f":"parch","s":-0.21,"v":1},{"f":"parch","s":-0.17,"v":1},
{"f":"parch","s":-0.13,"v":0},{"f":"parch","s":-0.10,"v":1},{"f":"parch","s":-0.09,"v":0},
{"f":"parch","s":-0.06,"v":0},{"f":"parch","s":-0.05,"v":0},{"f":"parch","s":-0.05,"v":0.1},{"f":"parch","s":-0.04,"v":0},{"f":"parch","s":-0.03,"v":0.8},{"f":"parch","s":-0.03,"v":0},{"f":"parch","s":-0.02,"v":0},{"f":"parch","s":-0.01,"v":0},{"f":"parch","s":0.00,"v":0},{"f":"parch","s":0.00,"v":0},
{"f":"parch","s":0.02,"v":0},{"f":"parch","s":0.04,"v":0},{"f":"parch","s":0.06,"v":0},{"f":"parch","s":0.08,"v":0},
{"f":"parch","s":0.11,"v":0},{"f":"parch","s":0.13,"v":0},{"f":"parch","s":0.15,"v":1},
{"f":"parch","s":0.19,"v":1},{"f":"parch","s":0.21,"v":1},{"f":"parch","s":0.23,"v":0.7},{"f":"parch","s":0.27,"v":1},{"f":"parch","s":0.29,"v":0.8},{"f":"parch","s":0.31,"v":1},{"f":"parch","s":0.35,"v":1},{"f":"parch","s":0.38,"v":0.6},{"f":"parch","s":0.43,"v":0.6},{"f":"parch","s":0.46,"v":0.5},{"f":"parch","s":0.49,"v":0.5},

{"f":"gender_male","s":-0.10,"v":1},{"f":"gender_male","s":-0.09,"v":1},{"f":"gender_male","s":-0.08,"v":1},{"f":"gender_male","s":-0.07,"v":1},{"f":"gender_male","s":-0.06,"v":1},{"f":"gender_male","s":-0.06,"v":1},{"f":"gender_male","s":-0.05,"v":1},{"f":"gender_male","s":-0.04,"v":1},{"f":"gender_male","s":-0.04,"v":1},{"f":"gender_male","s":-0.03,"v":1},
{"f":"gender_male","s":-0.01,"v":1},{"f":"gender_male","s":0.01,"v":1},{"f":"gender_male","s":0.03,"v":0},{"f":"gender_male","s":0.05,"v":0},
{"f":"gender_male","s":0.07,"v":0},{"f":"gender_male","s":0.09,"v":0},{"f":"gender_male","s":0.11,"v":0},{"f":"gender_male","s":0.13,"v":0},{"f":"gender_male","s":0.16,"v":0},{"f":"gender_male","s":0.21,"v":0},

{"f":"embarked_Q","s":-0.17,"v":1},{"f":"embarked_Q","s":-0.12,"v":1},
{"f":"embarked_Q","s":-0.08,"v":0},{"f":"embarked_Q","s":-0.07,"v":0},{"f":"embarked_Q","s":-0.07,"v":0},{"f":"embarked_Q","s":-0.06,"v":0},{"f":"embarked_Q","s":-0.05,"v":0},{"f":"embarked_Q","s":-0.05,"v":0},{"f":"embarked_Q","s":-0.04,"v":0},{"f":"embarked_Q","s":-0.03,"v":0},{"f":"embarked_Q","s":-0.03,"v":0},{"f":"embarked_Q","s":-0.02,"v":0},
{"f":"embarked_Q","s":0.00,"v":1},{"f":"embarked_Q","s":0.01,"v":0},{"f":"embarked_Q","s":0.03,"v":1},{"f":"embarked_Q","s":0.05,"v":0},{"f":"embarked_Q","s":0.10,"v":1},{"f":"embarked_Q","s":0.14,"v":1}
]},
"transform":[
{"joinaggregate":[{"op":"min","field":"s","as":"mn"},{"op":"max","field":"s","as":"mx"}],"groupby":["f"]},
{"calculate":"max((datum.mx-datum.mn)/60,0.08)","as":"w"},
{"calculate":"floor((datum.s-datum.mn)/datum.w+1e-9)","as":"b"},
{"calculate":"(floor(abs(datum.s)*1000+datum.v*37)*7919)%101","as":"h"},
{"window":[{"op":"row_number","as":"r"}],"groupby":["f","b"],"sort":[{"field":"h"}]},
{"calculate":"(datum.r-1)%2==1 ? -ceil((datum.r-1)/2) : ceil((datum.r-1)/2)","as":"o"},
{"calculate":"abs(datum.o)","as":"ao"},
{"joinaggregate":[{"op":"max","field":"ao","as":"mo"}],"groupby":["f"]},
{"calculate":"indexof(['gender_female','fare','age','pclass','sibsp','embarked_C','embarked_S','parch','gender_male','embarked_Q'],datum.f)","as":"i"},
{"calculate":"datum.i+0.42*datum.o/(datum.mo+1)","as":"yy"}
],
"mark":{"type":"circle","size":22,"opacity":1},
"encoding":{
"x":{"field":"s","type":"quantitative","scale":{"domain":[-4.24,6.02],"nice":false,"zero":false},
 "axis":{"values":[-4,-2,0,2,4,6],"title":"SHAP value (impact on model output)","grid":false,"domainColor":"#333333","tickColor":"#333333","tickSize":3.5,"labelColor":"#333333","labelFontSize":11,"labelPadding":3,"labelFlush":false,"titleFontSize":13,"titleFontWeight":"normal","titleColor":"#333333","titlePadding":4}},
"y":{"field":"yy","type":"quantitative","scale":{"domain":[-1,10],"reverse":true,"nice":false,"zero":false},
 "axis":{"orient":"left","values":[0,1,2,3,4,5,6,7,8,9],"labelExpr":"['gender_female','fare','age','pclass','sibsp','embarked_C','embarked_S','parch','gender_male','embarked_Q'][datum.value]","title":null,"domain":false,"ticks":false,"grid":true,"gridColor":"#cccccc","gridDash":[1,3],"gridWidth":1,"labelFontSize":13,"labelColor":"#333333","labelPadding":24}},
"color":{"field":"v","type":"quantitative","scale":{"domain":[0,0.5,1],"range":["#008bfb","#9b24ad","#ff0052"],"interpolate":"hcl"},
 "legend":{"orient":"none","legendX":368,"legendY":-1,"direction":"vertical","gradientLength":337,"gradientThickness":4,"values":[0.004,0.996],"labelExpr":"datum.value>0.5?'High':'Low'","labelFontSize":11,"labelColor":"#333333","labelOffset":4,"title":null}}
}}
]
}
